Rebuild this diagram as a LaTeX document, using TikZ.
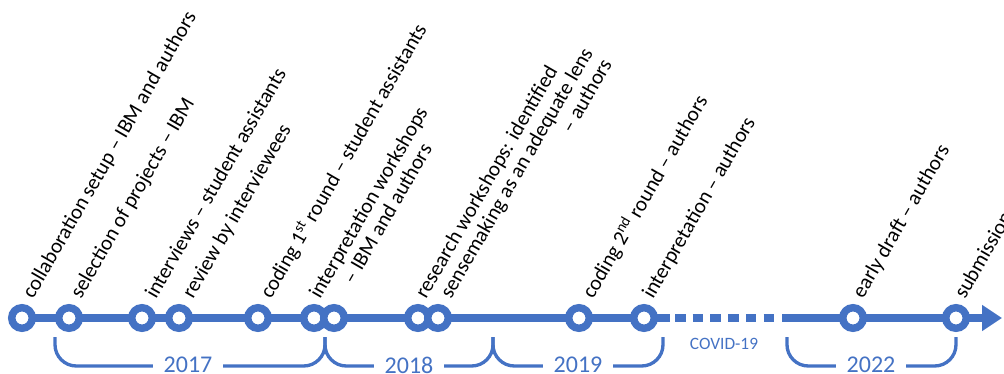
\documentclass[tikz,border=0pt]{standalone}
\usepackage{fontspec}
\setmainfont{Carlito}
\usetikzlibrary{arrows.meta,backgrounds}
\definecolor{TLBlue}{HTML}{4472C4}

\begin{document}
\begin{tikzpicture}[x=0.75pt,y=-0.75pt,
  evt/.style={circle,draw=TLBlue,fill=white,line width=5.6pt,minimum size=15.4pt,inner sep=0pt},
  tline/.style={TLBlue,line width=6pt},
  lbl/.style={rotate=60,anchor=base west,inner sep=0pt,font=\fontsize{15.8}{16.5}\selectfont},
  brc/.style={TLBlue,line width=2.5pt,rounded corners=16pt},
  yr/.style={TLBlue,fill=white,inner xsep=8pt,inner ysep=1pt,font=\fontsize{18}{20}\selectfont}]
\path[use as bounding box] (0,0) rectangle (1004,374);
\node[evt] (c1) at (22,318) {};
\node[evt] (c2) at (69,318) {};
\node[evt] (c3) at (142,318) {};
\node[evt] (c4) at (179,318) {};
\node[evt] (c5) at (258,318) {};
\node[evt] (c6) at (314,318) {};
\node[evt] (c7) at (334,318) {};
\node[evt] (c8) at (418,318) {};
\node[evt] (c9) at (438,318) {};
\node[evt] (c10) at (579,318) {};
\node[evt] (c11) at (644,318) {};
\node[evt] (c12) at (853,318) {};
\node[evt] (c13) at (956,318) {};
\coordinate (d1) at (670,318);
\coordinate (d2) at (675,318);
\coordinate (d3) at (775,318);
\coordinate (d4) at (782,318);
\coordinate (tip) at (1002,318);
\begin{scope}[on background layer]
\draw[tline] (c1.center) -- (c11.center) -- (d1);
\draw[tline,dash pattern=on 7.9pt off 5.4pt] (d2) -- (d3);
\draw[tline,-{Triangle[length=15pt,width=18.75pt]}] (d4) -- (tip);
\end{scope}
\node[lbl] (l1) at ([shift={(11,-18)}]c1.center) {collaboration setup -- IBM and authors};
\node[lbl] (l2) at ([shift={(12,-18)}]c2.center) {selection of projects -- IBM};
\node[lbl] (l3) at ([shift={(14,-18)}]c3.center) {interviews -- student assistants};
\node[lbl] (l4) at ([shift={(14,-18)}]c4.center) {review by interviewees};
\node[lbl] (l5) at ([shift={(13,-18)}]c5.center) {coding 1\textsuperscript{st} round -- student assistants};
\node[lbl,align=center] (l6) at ([shift={(25,-7)}]c6.center) {interpretation workshops\\-- IBM and authors};
\node[lbl] (l8) at ([shift={(8,-18)}]c8.center) {research workshops: identified};
\node[lbl,align=right] (l9) at ([shift={(32,-7)}]c9.center) {sensemaking as an adequate lens\\-- authors};
\node[lbl] (l10) at ([shift={(14,-18)}]c10.center) {coding 2\textsuperscript{nd} round -- authors};
\node[lbl] (l11) at ([shift={(9,-18)}]c11.center) {interpretation -- authors};
\node[lbl] (l12) at ([shift={(10,-18)}]c12.center) {early draft -- authors};
\node[lbl] (l13) at ([shift={(9,-18)}]c13.center) {submission};
\draw[brc] (55,337) -- (55,366) -- (325,366) -- (325,337);
\draw[brc] (325,337) -- (325,366) -- (493,366) -- (493,337);
\draw[brc] (493,337) -- (493,366) -- (663,366) -- (663,337);
\draw[brc] (787,337) -- (787,366) -- (956,366) -- (956,337);
\node[yr] (y2017) at (188,365) {2017};
\node[yr] (y2018) at (409,365) {2018};
\node[yr] (y2019) at (578,365) {2019};
\node[yr] (y2022) at (871,365) {2022};
\node[TLBlue,font=\fontsize{13}{15}\selectfont] (covid) at (724,344) {COVID-19};
\end{tikzpicture}
\end{document}
